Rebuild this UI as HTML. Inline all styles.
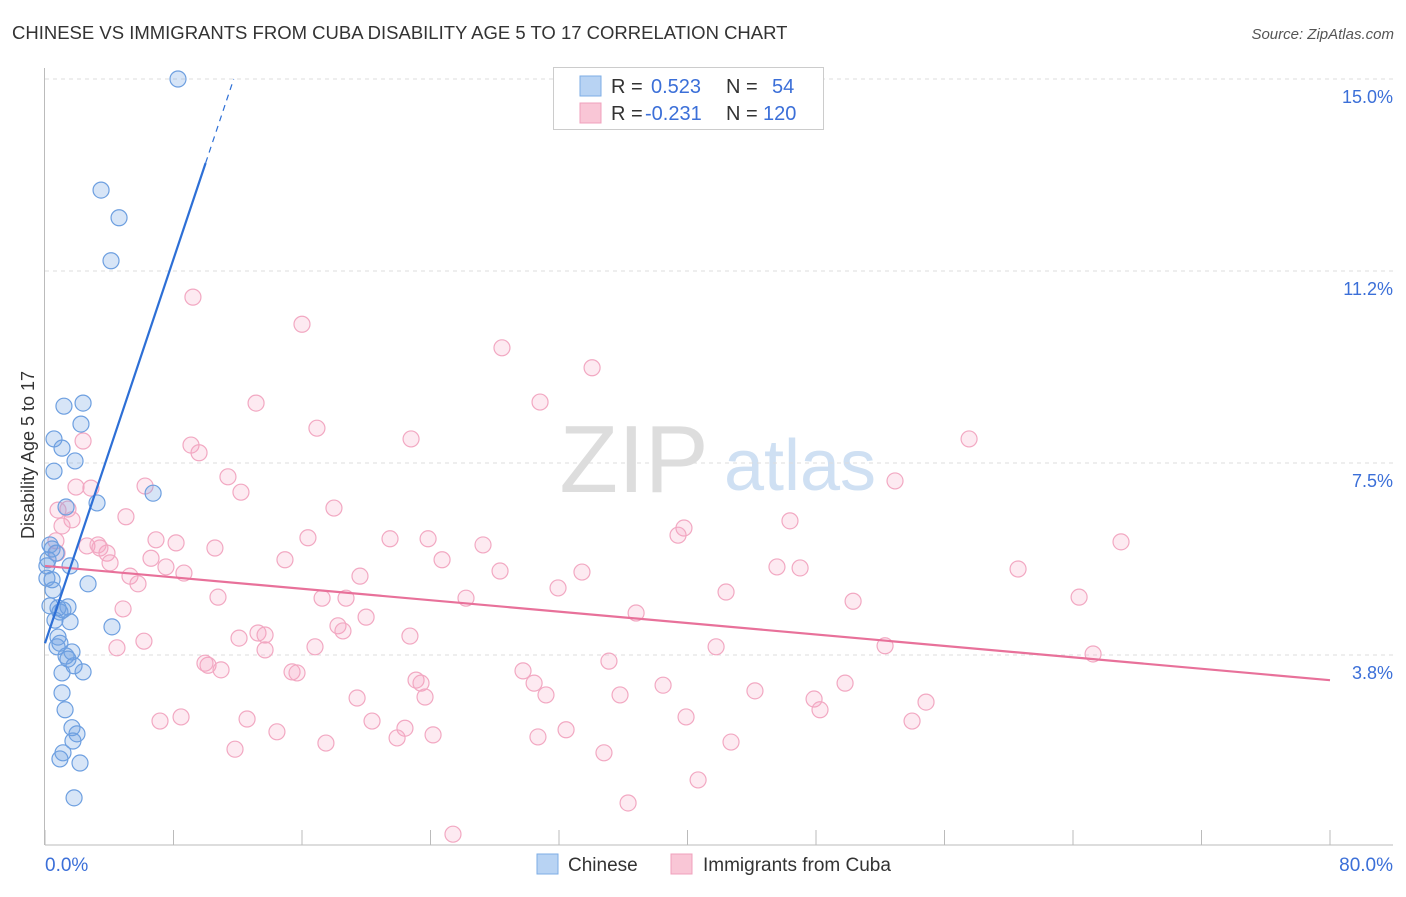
<!DOCTYPE html>
<html><head><meta charset="utf-8"><style>
body{margin:0;background:#fff;font-family:"Liberation Sans",sans-serif;}
svg text{font-family:"Liberation Sans",sans-serif;}
</style></head><body>
<svg id="chart" width="1406" height="892" viewBox="0 0 1406 892" xmlns="http://www.w3.org/2000/svg">
<text x="12" y="39" font-size="18.5" fill="#333">CHINESE VS IMMIGRANTS FROM CUBA DISABILITY AGE 5 TO 17 CORRELATION CHART</text>
<text x="1394" y="39" font-size="15" fill="#555" font-style="italic" text-anchor="end">Source: ZipAtlas.com</text>
<text x="634" y="492" font-size="96" fill="#ddd" font-family="Liberation Serif" text-anchor="middle">ZIP</text>
<text x="800" y="490" font-size="72" fill="#cfe0f3" text-anchor="middle">atlas</text>
<g id="grid"></g><g id="axes"></g><g id="pts"></g><g id="trend"></g>
<text transform="translate(34,455) rotate(-90)" font-size="18" fill="#333" text-anchor="middle">Disability Age 5 to 17</text>
<g>
<rect x="553.5" y="67.5" width="270" height="62" fill="#fff" stroke="#ccc"/>
<rect x="580" y="76" width="21" height="20" fill="#b8d3f3" stroke="#7eaee6"/>
<rect x="580" y="103" width="21" height="20" fill="#f9c6d6" stroke="#f0a0bc"/>
<text x="611" y="93" font-size="20" fill="#333">R = </text><text x="651" y="93" font-size="20" fill="#3b6fd8">0.523</text>
<text x="726" y="93" font-size="20" fill="#333">N = </text><text x="772" y="93" font-size="20" fill="#3b6fd8">54</text>
<text x="611" y="120" font-size="20" fill="#333">R = </text><text x="645" y="120" font-size="20" fill="#3b6fd8">-0.231</text>
<text x="726" y="120" font-size="20" fill="#333">N = </text><text x="763" y="120" font-size="20" fill="#3b6fd8">120</text>
</g>
<g>
<rect x="537" y="854" width="21" height="20" fill="#b8d3f3" stroke="#7eaee6"/>
<text x="568" y="871" font-size="19" fill="#333">Chinese</text>
<rect x="671" y="854" width="21" height="20" fill="#f9c6d6" stroke="#f0a0bc"/>
<text x="703" y="871" font-size="19" fill="#333">Immigrants from Cuba</text>
</g>
<text x="45" y="871" font-size="19" fill="#3b6fd8">0.0%</text>
<text x="1393" y="871" font-size="19" fill="#3b6fd8" text-anchor="end">80.0%</text>
</svg>
<script>
const yTicks=[15.0,11.25,7.5,3.75];
const yTickLabels=["15.0%","11.2%","7.5%","3.8%"];
const xTicks=[0,8,16,24,32,40,48,56,64,72,80];
const chineseX=[8.28,3.49,4.61,4.11,2.37,1.18,2.24,0.56,1.06,1.87,0.56,6.73,1.31,3.24,0.44,0.69,0.12,1.56,0.12,0.44,2.68,0.31,0.81,1.43,1.12,0.62,1.56,4.17,0.81,0.93,0.75,1.68,1.31,1.43,1.81,2.37,1.06,1.06,1.25,1.68,1.99,1.74,1.12,0.93,2.18,1.81,0.31,0.19,0.50,0.93];
const chineseY=[15.0,12.83,12.29,11.45,8.67,8.61,8.26,7.97,7.79,7.54,7.34,6.91,6.64,6.72,5.82,5.74,5.49,5.49,5.25,5.22,5.14,4.71,4.67,4.69,4.63,4.43,4.40,4.30,4.10,3.98,3.91,3.81,3.73,3.67,3.54,3.42,3.40,3.01,2.68,2.33,2.21,2.07,1.84,1.72,1.64,0.96,5.90,5.61,5.02,4.59];
const cubaX=[9.21,16.00,28.45,34.06,13.14,30.82,16.93,22.79,57.53,9.09,9.59,2.37,11.39,2.86,6.23,1.93,12.20,52.92,17.99,1.43,0.81,1.68,1.06,5.04,46.38,39.78,39.41,66.99,16.37,21.48,23.85,27.27,6.91,8.16,10.58,2.61,3.42,3.86,3.30,0.68,0.75,6.60,14.94,24.72,4.05,7.53,8.65,5.29,5.79,19.61,28.33,33.43,45.57,47.01,60.58,31.94,17.25,18.74,10.77,26.21,42.40,50.31,64.38,4.86,36.80,19.99,18.24,18.55,22.72,12.08,13.26,13.70,6.16,4.48,16.81,13.70,41.78,52.30,65.25,35.11,10.15,9.96,10.96,15.38,15.69,29.76,30.45,23.10,23.41,38.48,49.81,19.43,23.66,31.19,35.80,44.20,47.88,48.25,54.85,7.16,8.47,12.58,20.36,22.41,39.91,53.98,14.44,24.16,32.44,11.83,17.49,21.92,30.69,42.71,34.80,40.66,36.30,25.40];
const cubaY=[10.74,10.21,9.75,9.36,8.67,8.69,8.18,7.97,7.97,7.85,7.70,7.93,7.23,7.01,7.05,7.03,6.93,7.15,6.62,6.60,6.58,6.39,6.27,6.45,6.37,6.23,6.09,5.96,6.04,6.02,6.02,5.90,6.00,5.94,5.84,5.88,5.84,5.74,5.90,5.98,5.74,5.64,5.61,5.61,5.55,5.47,5.35,5.29,5.14,5.29,5.39,5.37,5.47,5.45,5.43,5.06,4.86,4.86,4.88,4.86,4.98,4.80,4.88,4.65,4.57,4.49,4.32,4.22,4.12,4.08,4.18,4.14,4.02,3.89,3.91,3.85,3.91,3.93,3.77,3.63,3.55,3.59,3.46,3.42,3.40,3.44,3.20,3.26,3.20,3.16,3.20,2.91,2.93,2.97,2.97,3.05,2.89,2.68,2.83,2.46,2.54,2.50,2.46,2.32,2.54,2.46,2.25,2.19,2.29,1.91,2.03,2.13,2.15,2.05,1.84,1.31,0.86,0.25];
const chineseTrend=[3.98,0.938];
const cubaTrend=[5.49,-0.0279];
const NS='http://www.w3.org/2000/svg';
const X=v=>45+v/80*1285, Y=v=>79+(15-v)*51.2;
function mk(t,a,p){const e=document.createElementNS(NS,t);for(const k in a)e.setAttribute(k,a[k]);p.appendChild(e);return e;}
const grid=document.getElementById('grid'),axes=document.getElementById('axes'),pts=document.getElementById('pts'),tr=document.getElementById('trend');
yTicks.forEach((v,i)=>{
 const l=mk('line',{x1:45,x2:1393,y1:Y(v),y2:Y(v),stroke:'#ddd','stroke-dasharray':'4,4'},grid);
 
 
 const t=mk('text',{x:1393,y:Y(v)+24,'font-size':18,fill:'#3b6fd8','text-anchor':'end'},grid);
 t.textContent=yTickLabels[i];
 
 
});
const ax=mk('line',{x1:45,x2:1393,y1:845,y2:845,stroke:'#bbb'},axes);


const ay=mk('line',{x1:44.5,x2:44.5,y1:68,y2:845,stroke:'#bbb'},axes);


xTicks.forEach(v=>{
 const t=mk('line',{x1:X(v),x2:X(v),y1:830,y2:845,stroke:'#bbb'},axes);
 
 
});
cubaX.forEach((v,i)=>{
 const c=mk('circle',{cx:X(v),cy:Y(cubaY[i]),r:8,fill:'rgba(244,160,190,0.22)',stroke:'#f2a8c2','stroke-width':1.2},pts);
 
 
});
chineseX.forEach((v,i)=>{
 const c=mk('circle',{cx:X(v),cy:Y(chineseY[i]),r:8,fill:'rgba(110,160,228,0.28)',stroke:'#6d9fe0','stroke-width':1.2},pts);
 
 
});
const cb=(x)=>cubaTrend[0]+cubaTrend[1]*x, ch=(x)=>chineseTrend[0]+chineseTrend[1]*x;
const l1=mk('line',{x1:X(0),y1:Y(cb(0)),x2:X(80),y2:Y(cb(80)),stroke:'#e8719a','stroke-width':2.2},tr);


const xEnd=10.0, xMax=(15-chineseTrend[0])/chineseTrend[1];
const l2=mk('line',{x1:X(0),y1:Y(ch(0)),x2:X(xEnd),y2:Y(ch(xEnd)),stroke:'#2d6fd6','stroke-width':2.2},tr);


const l3=mk('line',{x1:X(xEnd),y1:Y(ch(xEnd)),x2:X(xMax),y2:Y(ch(xMax)),stroke:'#2d6fd6','stroke-width':1.2,'stroke-dasharray':'6,5'},tr);


</script>
</body></html>
